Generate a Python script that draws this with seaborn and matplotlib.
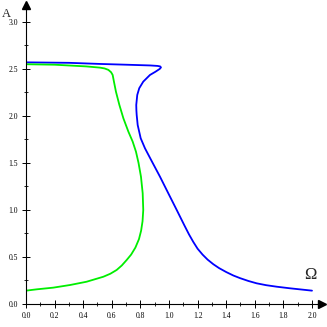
import numpy as np
import pandas as pd
import seaborn as sns
import matplotlib
matplotlib.use("Agg")
import matplotlib.pyplot as plt
from matplotlib.ticker import MultipleLocator, FormatStrFormatter

# Blue response curve (Omega, A)
blue_omega = [0.0, 0.3, 0.52, 0.7, 0.87, 0.92, 0.938, 0.944, 0.935, 0.905, 0.867, 0.82, 0.792,
              0.778, 0.771, 0.772, 0.774, 0.781, 0.802, 0.832, 0.879, 0.937, 0.995, 1.054,
              1.108, 1.14, 1.17, 1.20, 1.235, 1.27, 1.31, 1.35, 1.40, 1.45, 1.497, 1.555,
              1.613, 1.68, 1.753, 1.846, 1.92, 2.0]
blue_amp = [2.57, 2.565, 2.553, 2.545, 2.537, 2.532, 2.527, 2.516, 2.500, 2.470, 2.436, 2.365,
            2.295, 2.223, 2.117, 2.06, 2.011, 1.904, 1.763, 1.656, 1.520, 1.354, 1.178, 1.0,
            0.835, 0.74, 0.66, 0.588, 0.525, 0.472, 0.423, 0.382, 0.34, 0.303, 0.275, 0.245,
            0.220, 0.200, 0.184, 0.167, 0.155, 0.142]

# Green response curve (Omega, A)
green_omega = [0.0, 0.2, 0.42, 0.517, 0.55, 0.576, 0.595, 0.606, 0.615, 0.629, 0.653, 0.681,
               0.716, 0.746, 0.769, 0.787, 0.804, 0.816, 0.82, 0.815, 0.805, 0.79, 0.765,
               0.735, 0.704, 0.67, 0.634, 0.59, 0.541, 0.424, 0.308, 0.191, 0.075, 0.0]
green_amp = [2.55, 2.545, 2.527, 2.514, 2.505, 2.49, 2.465, 2.436, 2.365, 2.258, 2.117, 1.975,
             1.833, 1.727, 1.62, 1.50, 1.354, 1.178, 1.0, 0.88, 0.78, 0.69, 0.60, 0.525,
             0.468, 0.41, 0.362, 0.322, 0.29, 0.237, 0.202, 0.174, 0.156, 0.142]

x_ticks = [0.0, 0.2, 0.4, 0.6, 0.8, 1.0, 1.2, 1.4, 1.6, 1.8, 2.0]
y_ticks = [0.0, 0.5, 1.0, 1.5, 2.0, 2.5, 3.0]

sns.set_style("white")
plt.rcParams['font.family'] = ['Liberation Serif', 'DejaVu Serif']

fig = plt.figure(figsize=(3.27, 3.27), dpi=100)
ax = fig.add_axes([26/327, 23/327, 296/327, 299/327])

blue_df = pd.DataFrame({"Omega": blue_omega, "A": blue_amp})
green_df = pd.DataFrame({"Omega": green_omega, "A": green_amp})
sns.lineplot(data=blue_df, x="Omega", y="A", sort=False, estimator=None,
             color="#0000ff", lw=1.3, ax=ax)
sns.lineplot(data=green_df, x="Omega", y="A", sort=False, estimator=None,
             color="#00ee00", lw=1.3, ax=ax)

ax.set_xlim(0, 2.07)
ax.set_ylim(0, 3.18)
ax.set_xlabel("")
ax.set_ylabel("")
for s in ["top", "right"]:
    ax.spines[s].set_visible(False)
for s in ["left", "bottom"]:
    ax.spines[s].set_color("black")
    ax.spines[s].set_linewidth(0.8)

ax.set_xticks(x_ticks)
ax.set_yticks(y_ticks)
ax.xaxis.set_major_formatter(FormatStrFormatter("%.1f"))
ax.yaxis.set_major_formatter(FormatStrFormatter("%.1f"))
ax.xaxis.set_minor_locator(MultipleLocator(0.1))
ax.yaxis.set_minor_locator(MultipleLocator(0.25))
ax.tick_params(which="major", direction="inout", length=6, width=0.7, labelsize=5.5,
               colors="black", pad=3, bottom=True, left=True)
ax.tick_params(which="minor", direction="inout", length=3, width=0.6, colors="black",
               bottom=True, left=True)

# axis arrows
ax.plot(1, 0, ">k", markersize=6, transform=ax.get_yaxis_transform(), clip_on=False)
ax.plot(0, 1, "^k", markersize=6, transform=ax.get_xaxis_transform(), clip_on=False)

ax.text(1.985, 0.22, "Ω", fontsize=12, ha="center", va="bottom")
fig.text(6/327, 1 - 14/327, "A", fontsize=9, ha="center", va="center")

fig.savefig("out.png", dpi=100)
